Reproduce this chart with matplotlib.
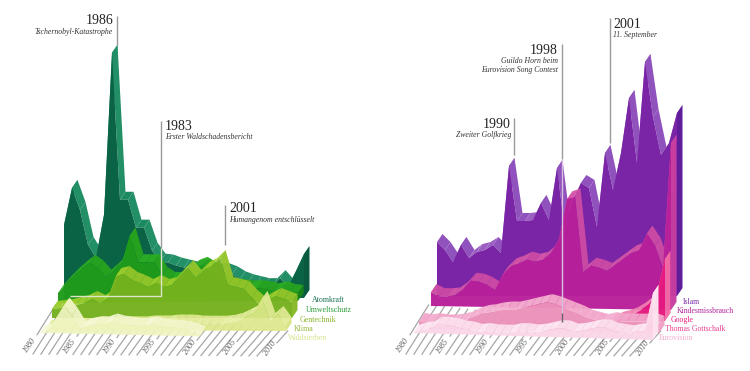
import numpy as np
import matplotlib
matplotlib.use("Agg")
import matplotlib.pyplot as plt

plt.rcParams["font.family"] = ["Liberation Serif", "DejaVu Serif"]

# heights above each layer's floor line, one value per year from 1980
ATOMKRAFT = [74, 111, 89, 54, 41, 84, 246, 99, 99, 71, 71, 48, 37, 36, 33, 31, 29, 31, 27, 27, 27, 24, 19, 16, 14, 12, 12, 20, 11, 27, 44]
UMWELTSCHUTZ = [10, 19, 27, 34, 40, 34, 25, 32, 40, 67, 40, 40, 40, 27, 22, 22, 27, 34, 37, 32, 22, 17, 15, 14, 13, 13, 12, 10, 12, 9, 8]
GENTECHNIK = [9, 10, 11, 13, 15, 19, 15, 20, 42, 44, 38, 35, 31, 35, 31, 33, 42, 50, 40, 48, 52, 60, 33, 31, 29, 20, 13, 18, 22, 19, 16]
KLIMA = [2, 3, 3, 4, 4, 4, 5, 5, 5, 5, 6, 6, 6, 7, 7, 7, 8, 8, 8, 7, 7, 7, 7, 8, 10, 14, 18, 32, 10, 17, 6]
WALDSTERBEN = [0, 2, 15, 28, 18, 5, 8, 10, 10, 13, 11, 10, 9, 9, 11, 9, 8, 8, 7, 5, 2]

ISLAM = [54, 46, 34, 51, 38, 44, 46, 51, 43, 130, 75, 75, 76, 93, 76, 128, 65, 96, 113, 108, 69, 143, 106, 143, 198, 133, 234, 179, 141, 153, 183]
KINDESMISSBRAUCH = [14, 10, 10, 11, 17, 26, 25, 22, 17, 33, 41, 44, 48, 46, 48, 55, 69, 109, 112, 36, 43, 41, 38, 44, 50, 56, 59, 76, 64, 42, 167]
GOOGLE = [1, 3, 6, 11, 17, 28, 62]
GOTTSCHALK = [8, 7, 8, 7, 7, 8, 10, 14, 17, 18, 20, 21, 21, 23, 25, 27, 29, 27, 24, 21, 18, 14, 12, 10, 12, 11, 11, 11, 11, 12, 9]
EUROVISION = [0, 3, 4, 9, 9, 8, 6, 5, 3, 4, 3, 3, 3, 5, 5, 4, 5, 7, 9, 9, 6, 7, 9, 11, 11, 8, 7, 6, 8, 9, 47]

YEARS = np.arange(1980, 2011)
TICK_YEARS = [1980, 1985, 1990, 1995, 2000, 2005, 2010]

STEP = 8.0
DEPTH = (5.5, -8.0)
GRAY = "#9a9a9a"
INK = "#222222"

fig = plt.figure(figsize=(7.5, 3.71), dpi=100)
ax = fig.add_axes([0, 0, 1, 1])
ax.set_xlim(0, 750)
ax.set_ylim(371, 0)
ax.axis("off")


def hatch(x0, y0, end_left, end_right):
    """Floor lines running back from the year labels, one per year."""
    n = len(YEARS)
    for i, yr in enumerate(YEARS):
        slope = 1.6 - 0.5 * i / (n - 1)
        sx, sy = x0 + STEP * i, y0 + 2.0 * i / (n - 1)
        if yr in TICK_YEARS:
            sx, sy = sx + 12, sy - 12 * slope
        ey = end_left + (end_right - end_left) * i / (n - 1)
        ax.plot([sx, sx + (sy - ey) / slope], [sy, ey], color="#a6a6a6", lw=0.9, zorder=1)
        if yr in TICK_YEARS:
            ax.text(sx - 7, sy + 11 * slope - 7, str(yr), rotation=55, rotation_mode="anchor",
                    ha="center", va="center", fontsize=5.8, style="italic", color="#5c5c5c", zorder=1)


def ridge(x0, base_l, base_r, heights, body, rib_up, rib_down, side, z, alpha=0.97, first=0):
    """One layer: extruded ribbon along the top, then the front face."""
    h = np.array(heights, dtype=float)
    idx = np.arange(first, first + len(h))
    x = x0 + STEP * idx
    base = base_l + (base_r - base_l) * idx / 30.0
    top = base - h
    dx, dy = DEPTH
    for i in range(len(h) - 1):
        c = rib_up if top[i + 1] < top[i] else rib_down
        ax.fill([x[i], x[i + 1], x[i + 1] + dx, x[i] + dx],
                [top[i], top[i + 1], top[i + 1] + dy, top[i] + dy],
                color=c, lw=0, alpha=alpha, zorder=z)
    ax.fill([x[-1], x[-1] + dx, x[-1] + dx, x[-1]],
            [top[-1], top[-1] + dy, base[-1] + dy, base[-1]],
            color=side, lw=0, alpha=alpha, zorder=z)
    ax.fill(np.r_[x, x[::-1]], np.r_[top, base[::-1]], color=body, lw=0, alpha=alpha, zorder=z + 0.5)


def event(x_text, y_year, year, lines, ha):
    ax.text(x_text, y_year, year, ha=ha, va="center", fontsize=10, color=INK, zorder=20)
    for k, s in enumerate(lines):
        ax.text(x_text, y_year + 11 + 8.5 * k, s, ha=ha, va="center", fontsize=5.6,
                style="italic", color="#333333", zorder=20)


def leader(xs, ys, color=GRAY):
    ax.plot(xs, ys, color=color, lw=1.0, zorder=15, solid_capstyle="butt")


# left panel
hatch(25, 354, 305, 331)
ridge(64, 299, 298, ATOMKRAFT, "#0b6346", "#1c8a60", "#228f66", "#0a5a3f", 3, alpha=1)
ridge(58, 303, 301, UMWELTSCHUTZ, "#1f9b1a", "#2bad22", "#26a31e", "#178414", 4)
ridge(52, 318, 318, GENTECHNIK, "#76b21f", "#9ccd2d", "#93c42a", "#86b826", 5)
ridge(46, 330, 331, KLIMA, "#dde88a", "#e6ee9f", "#e2ea94", "#d5e27c", 6, alpha=0.92)
ridge(40, 333, 338, WALDSTERBEN, "#f0f4c0", "#f7f9d9", "#f4f6cc", "#eef2b8", 7, alpha=0.92)

leader([117, 117], [16, 45])
leader([160.5, 160.5], [121, 248])
leader([160.5, 160.5, 70], [248, 296, 296], color="#dde4c8")
leader([225, 225], [205, 245])
event(113, 21, "1986", ["Tschernobyl-Katastrophe"], "right")
event(165, 126, "1983", ["Erster Waldschadensbericht"], "left")
event(229, 209, "2001", ["Humangenom entschlüsselt"], "left")

LEFT_NAMES = ["Atomkraft", "Umweltschutz", "Gentechnik", "Klima", "Waldsterben"]
LEFT_COLORS = ["#1a6f50", "#2a9a3a", "#86b42a", "#94b838", "#d8e08c"]
for k, (name, c) in enumerate(zip(LEFT_NAMES, LEFT_COLORS)):
    ax.text(312 - 6 * k, 300.5 + 9.5 * k, name, ha="left", va="center", fontsize=5.7, color=c, zorder=20)

# right panel
hatch(398, 354, 305, 331)
ridge(437, 296, 296, ISLAM, "#7a24a6", "#9b5fc4", "#9052bc", "#5f1d9a", 3, alpha=1)
ridge(431, 306, 310, KINDESMISSBRAUCH, "#b8209a", "#d455a8", "#cc4aa4", "#c73da0", 4)
ridge(425, 321, 321, GOOGLE, "#e5187f", "#ef7fb0", "#ea6ea6", "#f06aa5", 5, first=24)
ridge(419, 329, 333, GOTTSCHALK, "#ec92ba", "#f4aed0", "#f2a6ca", "#f0a0c5", 6)
ridge(413, 333, 340, EUROVISION, "#fbd7e8", "#fde8f3", "#fcdfed", "#fde4f0", 7)

leader([514, 514], [118, 155])
leader([562, 562], [44, 159])
leader([562, 562], [159, 313], color="#d9bfe0")
leader([562, 562], [313, 322], color="#666666")
leader([610, 610], [18, 143])
event(511, 124, "1990", ["Zweiter Golfkrieg"], "right")
event(558, 50, "1998", ["Guildo Horn beim", "Eurovision Song Contest"], "right")
event(613, 24, "2001", ["11. September"], "left")

RIGHT_NAMES = ["Islam", "Kindesmissbrauch", "Google", "Thomas Gottschalk", "Eurovision"]
RIGHT_COLORS = ["#7a2aa8", "#b0229c", "#e5187f", "#e8408f", "#f4a8cc"]
for k, (name, c) in enumerate(zip(RIGHT_NAMES, RIGHT_COLORS)):
    ax.text(683 - 6 * k, 302 + 9 * k, name, ha="left", va="center", fontsize=5.6, color=c, zorder=20)

fig.savefig("out.png", dpi=100)
